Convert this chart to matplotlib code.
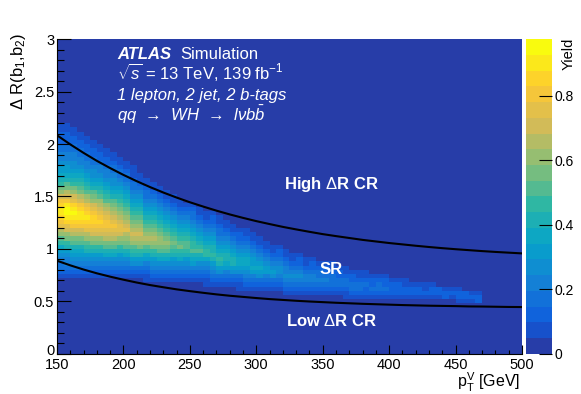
import numpy as np
import matplotlib
matplotlib.use('Agg')
import matplotlib.pyplot as plt
from matplotlib.colors import LinearSegmentedColormap, ListedColormap, BoundaryNorm
from matplotlib.transforms import ScaledTranslation

plt.rcParams['font.family'] = 'Liberation Sans'
plt.rcParams['mathtext.fontset'] = 'custom'
plt.rcParams['mathtext.rm'] = 'Liberation Sans'
plt.rcParams['mathtext.it'] = 'Liberation Sans:italic'
plt.rcParams['mathtext.bf'] = 'Liberation Sans:bold'

# histogram binning: 5 GeV in pT, 0.04 in dR
pt_edges = np.arange(150, 505, 5)
dr_edges = np.linspace(0, 3, 76)

yield_max = 0.975
n_levels = 20

# one entry per pT bin: first dR bin with content, then the colour level
# of each bin going up in dR (0-9, a=10 ... j=19)
col_first_bin = [18] * 13 + [17] * 9 + [16] * 5 + [15] * 7 + [14] * 9 + [13] * 17 + [12] * 4 + [0] * 6
col_levels = [
    "123345679acdfghiihgecb987665443322211",
    "123445689bcefhijjigedba87665443322211",
    "12345678abdeghijihfecb98765544332211",
    "12345678abdeghiihgedba9876544332211",
    "12345689acdfghihgfdca9876544332211",
    "12345689bcefghhgfecba876554332211",
    "12345689bcefghgfedca987654432211",
    "1234578abdefggfedca987654432211",
    "1234578abdefgfedcba87655433211",
    "12345689bceffedcba98765433211",
    "1234578abcdfedcba98765433211",
    "1235689acdedcba987654332111",
    "1235689bcdedcba9876543211",
    "11234679acdcba98765433211",
    "12345689bcdcba9876543211",
    "1234578abccba9876543211",
    "1234578abcba9876543211",
    "12345689aba9876543211",
    "12345789ba9876543211",
    "12345689aa987654321",
    "1234678a99876543321",
    "1234578a9876543211",
    "112345799876543211",
    "123456898876543221",
    "12356898765433211",
    "1234678876543211",
    "123568876543211",
    "112356776543221",
    "123456776543211",
    "12346766543211",
    "1235676543211",
    "123466543211",
    "12356543211",
    "12345543221",
    "12345443211",
    "1234543211",
    "1234543221",
    "123443211",
    "123443221",
    "12343321",
    "12343221",
    "12333211",
    "1233221",
    "11233211",
    "1233221",
    "1233211",
    "1223211",
    "123221",
    "123321",
    "123221",
    "12221",
    "12221",
    "12211",
    "1221",
    "1221",
    "1211",
    "1221",
    "122",
    "221",
    "121",
    "1221",
    "122",
    "121",
    "221",
    "", "", "", "", "", "",
]

# dR cut curves defining the SR / CRs (read every 10 GeV)
pt_cut = list(range(150, 510, 10))
dr_high = [2.084, 1.997, 1.916, 1.840, 1.771, 1.706, 1.646, 1.590, 1.538, 1.490,
           1.445, 1.404, 1.365, 1.329, 1.296, 1.265, 1.237, 1.210, 1.186, 1.163,
           1.141, 1.122, 1.104, 1.086, 1.071, 1.056, 1.043, 1.030, 1.018, 1.007,
           0.997, 0.988, 0.979, 0.971, 0.964, 0.957]
dr_low = [0.887, 0.843, 0.803, 0.767, 0.735, 0.706, 0.679, 0.655, 0.634, 0.614,
          0.597, 0.581, 0.566, 0.553, 0.542, 0.531, 0.521, 0.513, 0.505, 0.498,
          0.492, 0.486, 0.481, 0.476, 0.472, 0.468, 0.464, 0.461, 0.458, 0.456,
          0.454, 0.451, 0.450, 0.448, 0.446, 0.445]

level = np.zeros((len(dr_edges) - 1, len(pt_edges) - 1))
for i, (j0, s) in enumerate(zip(col_first_bin, col_levels)):
    for k, ch in enumerate(s):
        level[j0 + k, i] = int(ch, 20)
yields = (level + 0.5) * yield_max / n_levels

# ROOT kBird palette, 20 contour colours
bird_r = [0.2082, 0.0592, 0.0780, 0.0232, 0.1802, 0.5301, 0.8186, 0.9956, 0.9764]
bird_g = [0.1664, 0.3599, 0.5041, 0.6419, 0.7178, 0.7492, 0.7328, 0.7862, 0.9832]
bird_b = [0.5293, 0.8684, 0.8385, 0.7914, 0.6425, 0.4662, 0.3499, 0.1968, 0.0539]
stops = np.linspace(0, 1, 9)
bird = LinearSegmentedColormap.from_list(
    'bird', [(s, (r, g, b)) for s, r, g, b in zip(stops, bird_r, bird_g, bird_b)])
pos = np.floor((np.arange(n_levels) + 0.99) * 255 / n_levels) / 254
cmap = ListedColormap(bird(pos))
norm = BoundaryNorm(np.linspace(0, yield_max, n_levels + 1), n_levels)

fig = plt.figure(figsize=(5.81, 3.94), dpi=100)
ax = fig.add_axes([0.0981, 0.1023, 0.8003, 0.7980])
cax = fig.add_axes([0.9048, 0.1023, 0.0448, 0.7980])

mesh = ax.pcolormesh(pt_edges, dr_edges, yields, cmap=cmap, norm=norm, linewidth=0)
ax.plot(pt_cut, dr_high, color='black', lw=1.5)
ax.plot(pt_cut, dr_low, color='black', lw=1.5)

ax.set_xlim(150, 500)
ax.set_ylim(0, 3)
ax.set_xticks(np.arange(150, 501, 50))
ax.set_xticks(np.arange(150, 501, 10), minor=True)
ax.set_yticks(np.arange(0, 3.01, 0.5))
ax.set_yticks(np.arange(0, 3.01, 0.1), minor=True)
ax.set_yticklabels(['0', '0.5', '1', '1.5', '2', '2.5', '3'])
ax.tick_params(axis='x', which='major', direction='in', length=6.5, width=0.8, labelsize=10.5, pad=3)
ax.tick_params(axis='x', which='minor', direction='in', length=3.2, width=0.8)
ax.tick_params(axis='y', which='major', direction='in', length=10, width=0.8, labelsize=10.5, pad=2)
ax.tick_params(axis='y', which='minor', direction='in', length=5, width=0.8)
ax.spines['top'].set_visible(False)
ax.spines['right'].set_visible(False)
# lift the "0" on the y axis a little, as ROOT does, so it clears "150"
zero_lbl = ax.get_yticklabels()[0]
zero_lbl.set_transform(zero_lbl.get_transform() + ScaledTranslation(0, 3 / 72, fig.dpi_scale_trans))

cb = fig.colorbar(mesh, cax=cax, ticks=[0, 0.2, 0.4, 0.6, 0.8])
cb.ax.set_yticklabels(['0', '0.2', '0.4', '0.6', '0.8'])
cb.ax.tick_params(direction='in', length=9.5, width=0.8, labelsize=10, pad=2)
cb.outline.set_linewidth(0)
cb.ax.minorticks_off()

W, H = 581.0, 394.0
fig.text(19 / W, 1 - 33 / H, r'$\Delta$ R(b$_{1}$,b$_{2}$)', rotation=90, ha='center', va='top', fontsize=12)
fig.text(520 / W, 1 - 387.5 / H, r'p$_{\mathrm{T}}^{\mathrm{V}}$ [GeV]', ha='right', va='baseline', fontsize=11.5)
fig.text(569 / W, 1 - 38 / H, 'Yield', rotation=90, ha='center', va='top', fontsize=10.5)

txt = dict(color='white', fontsize=12, va='baseline')
fig.text(117 / W, 1 - 59.3 / H, 'ATLAS', weight='bold', style='italic', **txt)
fig.text(180 / W, 1 - 59.3 / H, 'Simulation', **txt)
fig.text(117 / W, 1 - 79.3 / H, r'$\sqrt{s}$ = 13 TeV, 139 fb$^{-1}$', **txt)
fig.text(117 / W, 1 - 100 / H, '1 lepton, 2 jet, 2 b-tags', style='italic', **txt)
fig.text(117 / W, 1 - 120.7 / H, r'qq  →  WH  →  l$\nu b\bar{b}$', style='italic', **txt)

fig.text(284 / W, 1 - 189.3 / H, r'High $\Delta$R CR', weight='bold', **txt)
fig.text(320 / W, 1 - 274 / H, 'SR', weight='bold', **txt)
fig.text(286 / W, 1 - 325.7 / H, r'Low $\Delta$R CR', weight='bold', **txt)

fig.savefig('out.png', dpi=100, facecolor='white')
